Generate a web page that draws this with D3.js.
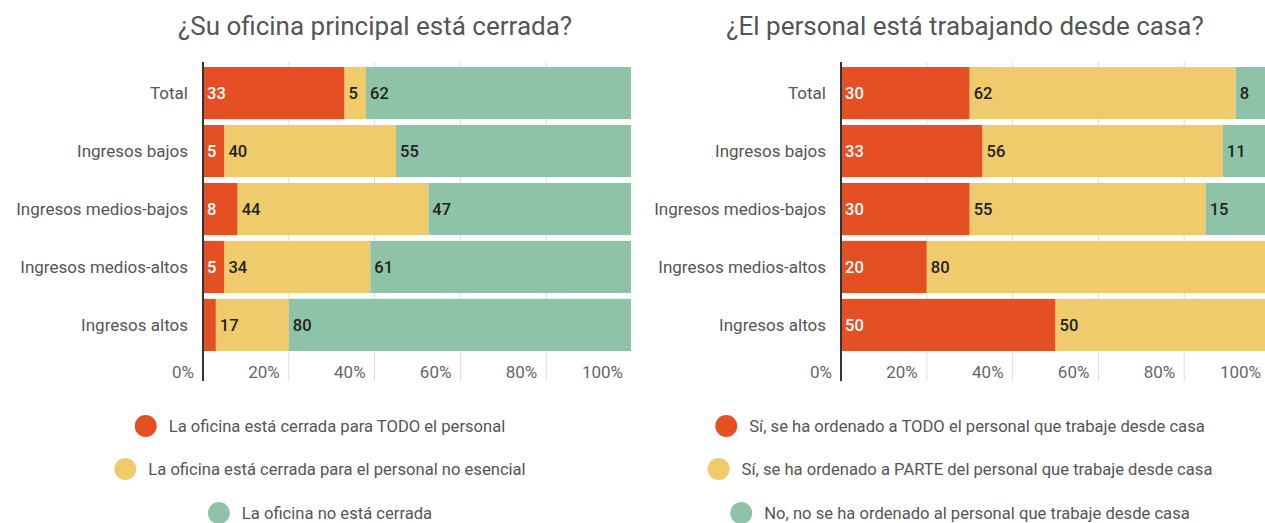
<!DOCTYPE html>
<html>
<head>
<meta charset="utf-8">
<script src="https://cdn.jsdelivr.net/npm/d3@7"></script>
<style>
  body { margin: 0; background: #fff; }
  text { font-family: Roboto, "Open Sans", sans-serif; }
</style>
</head>
<body>
<div id="chart"></div>
<script>
// datos
var categorias = ["Total", "Ingresos bajos", "Ingresos medios-bajos", "Ingresos medios-altos", "Ingresos altos"];
var ticks = [0, 20, 40, 60, 80, 100];

var titulo1 = "¿Su oficina principal está cerrada?";
var series1 = ["La oficina está cerrada para TODO el personal",
               "La oficina está cerrada para el personal no esencial",
               "La oficina no está cerrada"];
var todo1 = [33, 5, 8, 5, 3];
var parte1 = [5, 40, 44, 34, 17];
var no1 = [62, 55, 47, 61, 80];

var titulo2 = "¿El personal está trabajando desde casa?";
var series2 = ["Sí, se ha ordenado a TODO el personal que trabaje desde casa",
               "Sí, se ha ordenado a PARTE del personal que trabaje desde casa",
               "No, no se ha ordenado al personal que trabaje desde casa"];
var todo2 = [30, 33, 30, 20, 50];
var parte2 = [62, 56, 55, 80, 50];
var no2 = [8, 11, 15, 0, 0];

var colores = ["#E44F23", "#EFCB6B", "#8EC3A8"];

var W = 1265, H = 523;
var svg = d3.select("#chart").append("svg")
  .attr("width", W).attr("height", H);

var y = d3.scaleBand()
  .domain(categorias)
  .range([67, 351])
  .paddingInner(0.1)
  .paddingOuter(0);

function panel(id, x0, clipRight, centro, leyCentro, titulo, series, valores) {
  var x = d3.scaleLinear().domain([0, 100]).range([x0, x0 + 429]);

  svg.append("clipPath").attr("id", id)
    .append("rect").attr("x", 0).attr("y", 0).attr("width", clipRight).attr("height", H);

  var g = svg.append("g").attr("clip-path", "url(#" + id + ")");

  // titulo
  svg.append("text")
    .attr("x", centro).attr("y", 35)
    .attr("text-anchor", "middle")
    .style("font-size", "26px")
    .style("fill", "#555")
    .text(titulo);

  // rejilla
  g.selectAll(".grid").data(ticks.slice(1)).enter().append("line")
    .attr("x1", function(d) { return x(d); })
    .attr("x2", function(d) { return x(d); })
    .attr("y1", 62).attr("y2", 381)
    .style("stroke", "#ddd").style("stroke-width", 1);

  // pilas (normalizadas a 100%)
  var filas = categorias.map(function(c, i) {
    var o = { cat: c };
    series.forEach(function(s, k) { o["s" + k] = valores[k][i]; });
    return o;
  });
  var stack = d3.stack().keys(["s0", "s1", "s2"]).offset(d3.stackOffsetExpand)(filas);

  stack.forEach(function(capa, k) {
    var gg = g.append("g");
    gg.selectAll("rect").data(capa).enter().append("rect")
      .attr("x", function(d) { return x(d[0] * 100); })
      .attr("y", function(d) { return y(d.data.cat); })
      .attr("width", function(d) { return x(d[1] * 100) - x(d[0] * 100); })
      .attr("height", y.bandwidth())
      .style("fill", colores[k]);
    gg.selectAll("text").data(capa.filter(function(d) { return d.data["s" + k] >= 4; })).enter().append("text")
      .attr("x", function(d) { return x(d[0] * 100) + 4; })
      .attr("y", function(d) { return y(d.data.cat) + y.bandwidth() / 2 + 6; })
      .style("font-size", "16.5px")
      .style("font-weight", 500)
      .style("fill", k == 0 ? "#fff" : "#222")
      .text(function(d) { return d.data["s" + k]; });
  });

  // eje
  svg.append("line")
    .attr("x1", x0).attr("x2", x0).attr("y1", 62).attr("y2", 381)
    .style("stroke", "#333").style("stroke-width", 2);

  // etiquetas categorias
  svg.selectAll(null).data(categorias).enter().append("text")
    .attr("x", x0 - 15)
    .attr("y", function(d) { return y(d) + y.bandwidth() / 2 + 6; })
    .attr("text-anchor", "end")
    .style("font-size", "17px")
    .style("fill", "#555")
    .text(function(d) { return d; });

  // ticks
  g.selectAll(".tick").data(ticks).enter().append("text")
    .attr("x", function(d) { return x(d) - 9; })
    .attr("y", 378)
    .attr("text-anchor", "end")
    .style("font-size", "17px")
    .style("fill", "#666")
    .text(function(d) { return d + "%"; });

  // leyenda
  var yLey = [426, 469, 513];
  series.forEach(function(s, k) {
    var t = svg.append("text")
      .attr("y", yLey[k] + 6)
      .style("font-size", "16.6px")
      .style("fill", "#555")
      .text(s);
    var tw = t.node().getComputedTextLength();
    var total = 22 + 12 + tw;
    var xi = leyCentro - total / 2;
    t.attr("x", xi + 34);
    svg.append("circle")
      .attr("cx", xi + 11).attr("cy", yLey[k])
      .attr("r", 11)
      .style("fill", colores[k]);
  });
}

panel("clipA", 203, 631, 375, 320, titulo1, series1, [todo1, parte1, no1]);
panel("clipB", 841, 1265, 965, 960, titulo2, series2, [todo2, parte2, no2]);
</script>
</body>
</html>
